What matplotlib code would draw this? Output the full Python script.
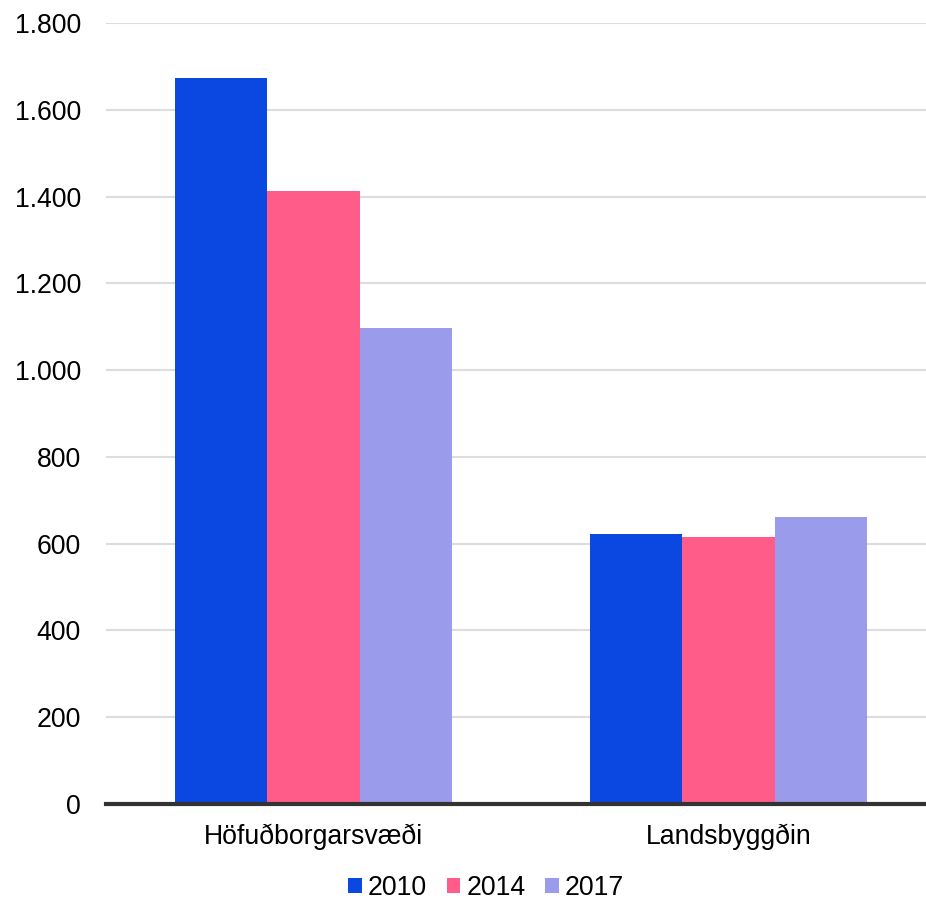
import matplotlib
matplotlib.use('Agg')
import matplotlib.pyplot as plt
import numpy as np

categories = ['Höfuðborgarsvæði', 'Landsbyggðin']
years = ['2010', '2014', '2017']
values_2010 = [1673, 622]
values_2014 = [1412, 616]
values_2017 = [1097, 661]
colors = ['#0B47E1', '#FF5C8A', '#9B9BEB']

plt.rcParams['font.family'] = ['Liberation Sans', 'DejaVu Sans']
fs = 19.2

fig = plt.figure(figsize=(9.26, 9.01), dpi=100)
ax = fig.add_axes([106 / 926, 1 - 804 / 901, 1 - 106 / 926, (804 - 23) / 901])

x = np.arange(len(categories))
bw = 0.2225
series = [values_2010, values_2014, values_2017]
for i, (vals, lab, col) in enumerate(zip(series, years, colors)):
    ax.bar(x + (i - 1) * bw, vals, bw, color=col, label=lab, zorder=3)

ax.set_ylim(0, 1800)
ax.set_xlim(-0.5, 1.476)
yt = np.arange(0, 1801, 200)
ax.set_yticks(yt)
ax.set_yticklabels([f'{v:,}'.replace(',', '.') for v in yt], fontsize=fs)
ax.set_xticks(x)
ax.set_xticklabels(categories, fontsize=fs)
ax.tick_params(axis='y', length=0, pad=18)
ax.tick_params(axis='x', length=0, pad=14)
for s in ['top', 'right', 'left']:
    ax.spines[s].set_visible(False)
ax.spines['bottom'].set_linewidth(3)
ax.spines['bottom'].set_color('#333333')
ax.spines['bottom'].set_zorder(5)
ax.yaxis.grid(True, color='#dddddd', linewidth=1.5, zorder=0)

leg = fig.legend(loc='center', bbox_to_anchor=(486 / 926, 1 - 888 / 901), ncol=3,
                 frameon=False, fontsize=fs, handlelength=0.52, handleheight=0.52,
                 handletextpad=0.22, columnspacing=0.75)

fig.savefig('out.png', dpi=100)
